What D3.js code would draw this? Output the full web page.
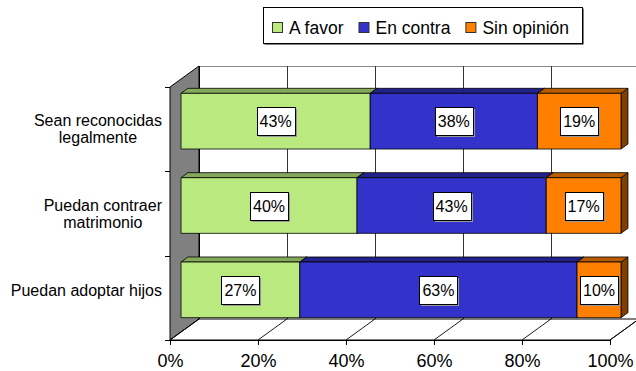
<!DOCTYPE html>
<html><head><meta charset="utf-8">
<script src="https://cdn.jsdelivr.net/npm/d3@7"></script>
<style>html,body{margin:0;padding:0;background:#fff;} svg{display:block;font-family:"Liberation Sans",Arial,sans-serif;}</style>
</head><body>
<svg id="c" width="636" height="371"></svg>
<script>
const categories = ["Sean reconocidas legalmente", "Puedan contraer matrimonio", "Puedan adoptar hijos"];
const categoryLines = [["Sean reconocidas", "legalmente"], ["Puedan contraer", "matrimonio"], ["Puedan adoptar hijos"]];
const seriesNames = ["A favor", "En contra", "Sin opinión"];
const aFavor = [43, 40, 27];
const enContra = [38, 43, 63];
const sinOpinion = [19, 17, 10];
const xTicks = [0, 20, 40, 60, 80, 100];

const colors = {
  "A favor":     {front: "#B9E97F", top: "#84A95A", side: "#5E7A3E"},
  "En contra":   {front: "#3333CC", top: "#22228A", side: "#161660"},
  "Sin opinión": {front: "#FF8000", top: "#B85C00", side: "#804000"}
};

const svg = d3.select("#c");
const DX = 29, DY = -21;               // full depth offset of oblique projection
const proj = (px, py, d) => [px + d * DX, py + d * DY];

const x = d3.scaleLinear().domain([0, 100]).range([170, 610]);
const y = d3.scaleBand().domain(categories).range([87, 340]).padding(0);
const barFrac = 0.66, dFront = 0.38, dBack = 0.62;

const rows = categories.map((c, i) => ({cat: c, "A favor": aFavor[i], "En contra": enContra[i], "Sin opinión": sinOpinion[i]}));
const stacked = d3.stack().keys(seriesNames)(rows);

const poly = pts => pts.map(p => p.join(",")).join(" ");

// back wall
const yTop = y.range()[0], yBot = y.range()[1];
const bw0 = proj(x(0), yTop, 1), bw1 = proj(x(0), yBot, 1);
svg.append("rect").attr("x", bw0[0]).attr("y", bw0[1]).attr("width", 640 - bw0[0]).attr("height", bw1[1] - bw0[1]).attr("fill", "#fff");
svg.append("line").attr("x1", bw0[0]).attr("x2", 640).attr("y1", bw0[1] + 0.5).attr("y2", bw0[1] + 0.5).attr("stroke", "#888");
xTicks.forEach(t => {
  const a = proj(x(t), yTop, 1), b = proj(x(t), yBot, 1);
  svg.append("line").attr("x1", Math.round(a[0]) + 0.5).attr("x2", Math.round(b[0]) + 0.5).attr("y1", a[1]).attr("y2", b[1])
    .attr("stroke", t === 0 ? "#000" : "#333").attr("stroke-width", 1);
});

// side wall
svg.append("polygon").attr("points", poly([[x(0), yTop], proj(x(0), yTop, 1), proj(x(0), yBot, 1), [x(0), yBot]]))
  .attr("fill", "#808080").attr("stroke", "#000").attr("stroke-width", 1);

// floor
svg.append("polygon").attr("points", poly([[x(0), yBot], [x(100), yBot], proj(x(100), yBot, 1), proj(x(0), yBot, 1)]))
  .attr("fill", "#fff").attr("stroke", "#000").attr("stroke-width", 1);
xTicks.forEach(t => {
  const b = proj(x(t), yBot, 1);
  svg.append("line").attr("x1", x(t)).attr("y1", yBot).attr("x2", b[0]).attr("y2", b[1]).attr("stroke", "#000").attr("stroke-width", 0.9);
});

// category ticks on left edge
const bounds = categories.map(c => y(c)).concat([yBot]);
bounds.forEach(b => {
  svg.append("line").attr("x1", x(0) - 5).attr("x2", x(0)).attr("y1", Math.round(b) + 0.5).attr("y2", Math.round(b) + 0.5).attr("stroke", "#000");
});

// x axis
const axis = d3.axisBottom(x).tickValues(xTicks).tickFormat(d => d + "%").tickSize(5).tickPadding(9);
const gAx = svg.append("g").attr("transform", `translate(0,${yBot})`).call(axis);
gAx.select(".domain").attr("stroke", "#000");
gAx.selectAll(".tick line").attr("stroke", "#000");
gAx.selectAll("text").attr("font-size", 18).attr("font-family", "Liberation Sans, Arial, sans-serif").attr("fill", "#000");

// bars
const gBars = svg.append("g");
categories.forEach((c, ci) => {
  const bh = y.bandwidth() * barFrac;
  const yc = y(c) + y.bandwidth() / 2;
  const y0 = yc - bh / 2, y1 = yc + bh / 2;
  stacked.forEach(s => {
    const d = s[ci];
    const col = colors[s.key];
    const xa = x(d[0]), xb = x(d[1]);
    const fTL = proj(xa, y0, dFront), fTR = proj(xb, y0, dFront), fBR = proj(xb, y1, dFront), fBL = proj(xa, y1, dFront);
    const bTL = proj(xa, y0, dBack), bTR = proj(xb, y0, dBack), bBR = proj(xb, y1, dBack);
    gBars.append("polygon").attr("points", poly([fTR, bTR, bBR, fBR])).attr("fill", col.side).attr("stroke", "#000").attr("stroke-width", 0.8);
    gBars.append("polygon").attr("points", poly([fTL, bTL, bTR, fTR])).attr("fill", col.top).attr("stroke", "#000").attr("stroke-width", 0.8);
    gBars.append("polygon").attr("points", poly([fTL, fTR, fBR, fBL])).attr("fill", col.front).attr("stroke", "#000").attr("stroke-width", 0.8);
  });
});

// data labels
const gLab = svg.append("g");
categories.forEach((c, ci) => {
  const yc = y(c) + y.bandwidth() / 2;
  stacked.forEach(s => {
    const d = s[ci];
    const val = d[1] - d[0];
    const cx = proj((x(d[0]) + x(d[1])) / 2, yc, dFront);
    const t = gLab.append("text").attr("x", cx[0]).attr("y", cx[1] + 6).attr("text-anchor", "middle")
      .attr("font-size", 16).attr("fill", "#000").text(val + "%");
    const w = t.node().getComputedTextLength();
    const bx = Math.round(cx[0] - w / 2 - 3) + 0.5, by = Math.round(cx[1] - 14) + 0.5;
    gLab.insert("rect", "text").attr("x", bx + 1.5).attr("y", by + 1.5).attr("width", w + 6).attr("height", 28).attr("fill", "#999");
    gLab.insert("rect", "text").attr("x", bx).attr("y", by).attr("width", w + 6).attr("height", 28).attr("fill", "#fff").attr("stroke", "#000").attr("stroke-width", 1);
  });
});

// category labels
const gCat = svg.append("g");
categories.forEach((c, ci) => {
  const lines = categoryLines[ci];
  const n = lines.length;
  const yc = y(c) + y.bandwidth() / 2;
  const base = n === 1 ? yc - 2 : yc - (n - 1) * 8.5 + 5.5;
  const texts = lines.map((l, li) => gCat.append("text").attr("y", base + li * 17).attr("font-size", 16)
    .attr("text-anchor", "middle").attr("fill", "#000").text(l));
  const maxW = d3.max(texts, t => t.node().getComputedTextLength());
  texts.forEach(t => t.attr("x", 162 - maxW / 2));
});

// legend
const gLeg = svg.append("g");
gLeg.append("rect").attr("x", 264.5).attr("y", 8.5).attr("width", 319).attr("height", 36).attr("fill", "#000");
gLeg.append("rect").attr("x", 263.5).attr("y", 7.5).attr("width", 319).attr("height", 36).attr("fill", "#fff").attr("stroke", "#000");
let lx = 272;
seriesNames.forEach(name => {
  gLeg.append("rect").attr("x", lx + 0.5).attr("y", 22.5).attr("width", 10).attr("height", 10)
    .attr("fill", colors[name].front).attr("stroke", "#333");
  const t = gLeg.append("text").attr("x", lx + 17).attr("y", 34).attr("font-size", 17.5).attr("fill", "#000").text(name);
  lx += 17 + t.node().getComputedTextLength() + 15;
});
</script>
</body></html>
